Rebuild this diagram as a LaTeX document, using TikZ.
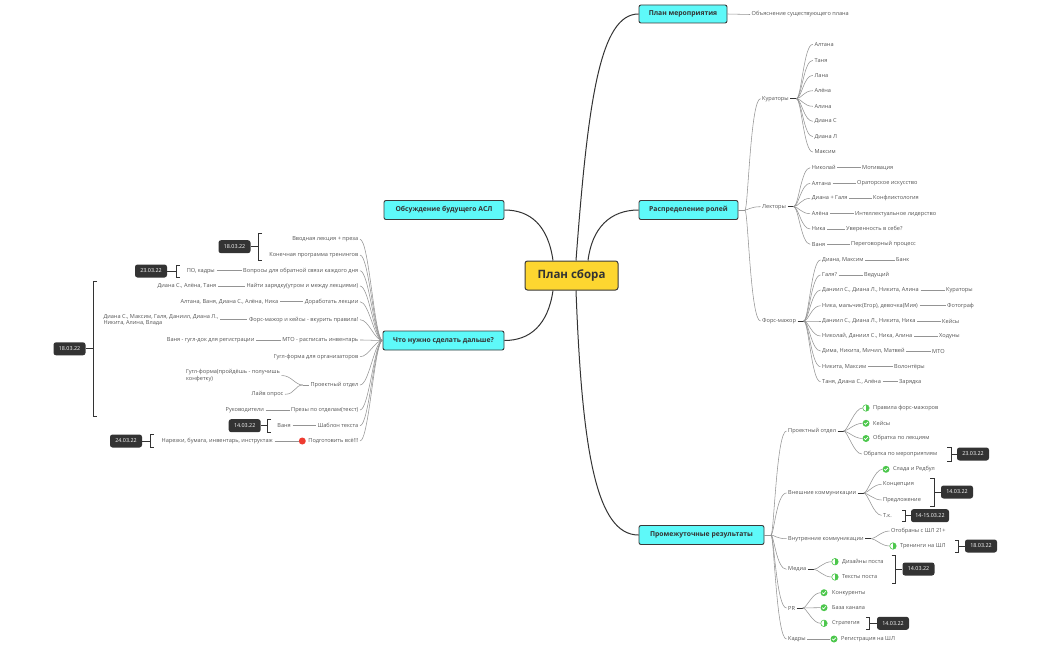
\documentclass[tikz,border=0pt]{standalone}
\usepackage{fontspec}
\setmainfont{Open Sans}
\usetikzlibrary{calc}
\definecolor{cyanbox}{HTML}{5EF9F9}
\definecolor{yelbox}{HTML}{FDD630}
\definecolor{boxline}{HTML}{3A3A3A}
\definecolor{txt}{HTML}{555555}
\definecolor{lnk}{HTML}{949494}
\definecolor{dark}{HTML}{333333}
\definecolor{okgreen}{HTML}{4CC74C}
\definecolor{reddot}{HTML}{EE3B30}
\newcommand\smallfnt{\fontsize{5.6}{6.6}\selectfont}
\newcommand\myrbr[4]{\draw[bracket] (#1,#3) -- (#2,#3) -- (#2,#4) -- (#1,#4);}
\begin{document}
\begin{tikzpicture}[x=1pt,y=-1pt,
 lbl/.style={font=\smallfnt, text=txt, inner sep=1.5pt},
 lw/.style={lbl, anchor=west},
 le/.style={lbl, anchor=east},
 mainbox/.style={draw=boxline, line width=0.9pt, fill=cyanbox, rounded corners=2pt, font=\fontsize{6.8}{8}\selectfont\bfseries, text=dark, inner sep=0pt},
 centerbox/.style={draw=boxline, line width=1pt, fill=yelbox, rounded corners=2.5pt, font=\fontsize{11.5}{13}\selectfont\bfseries, text=dark, inner sep=0pt, minimum width=93pt, minimum height=29pt},
 datebox/.style={fill=dark, rounded corners=2.5pt, text=white, font=\fontsize{5.4}{6}\selectfont, minimum width=32pt, minimum height=13pt, inner sep=0pt},
 br/.style={draw=lnk, line width=0.55pt},
 mainline/.style={draw=dark, line width=1pt},
 tickline/.style={draw=dark, line width=0.8pt},
 bracket/.style={draw=dark, line width=0.8pt},
 ok/.style={circle, fill=okgreen, minimum size=7pt, inner sep=0pt, path picture={\draw[white, line width=0.7pt] ($(path picture bounding box.center)+(-1.7pt,0.1pt)$) -- ++(1.2pt,-1.2pt) -- ++(2.3pt,2.4pt);}},
 half/.style={circle, draw=okgreen, line width=0.6pt, fill=white, minimum size=6.5pt, inner sep=0pt, path picture={\fill[okgreen] (path picture bounding box.north) rectangle (path picture bounding box.south east);}},
 rdot/.style={circle, fill=reddot, minimum size=7pt, inner sep=0pt}
]
\fill[white] (0,0) rectangle (1050,650);
\useasboundingbox (0,0) rectangle (1050,650);

% ---------- main nodes
\node[centerbox] (c) at (571.5,275.5) {План сбора};
\node[mainbox, minimum width=88pt, minimum height=18pt] (pm) at (683,14) {План мероприятия};
\node[mainbox, minimum width=99pt, minimum height=19pt] (rr) at (688.5,210) {Распределение ролей};
\node[mainbox, minimum width=125pt, minimum height=19pt] (prm) at (701.5,535) {Промежуточные результаты};
\node[mainbox, minimum width=120pt, minimum height=19pt] (ob) at (444,210) {Обсуждение будущего АСЛ};
\node[mainbox, minimum width=121pt, minimum height=19pt] (chto) at (443.5,340.5) {Что нужно сделать дальше?};

\draw[mainline] ($(c.north)+(4.5,0)$) .. controls (588,100) and (600,14) .. (pm.west);
\draw[mainline] ($(c.north)+(16.5,0)$) .. controls (592,228) and (610,210) .. (rr.west);
\draw[mainline] ($(c.south)+(4.5,0)$) .. controls (582,450) and (596,535) .. (prm.west);
\draw[mainline] ($(c.north)+(-18.5,0)$) .. controls (548,225) and (530,210) .. (ob.east);
\draw[mainline] ($(c.south)+(-18.5,0)$) .. controls (548,325) and (530,340.5) .. (chto.east);

% ---------- План мероприятия
\node[lw] (pm1) at (750,14.5) {Объяснение существующего плана};
\draw[br] (pm.east) -- (pm1.west);

% ---------- Распределение ролей
\coordinate (rrj) at (745,210);
\draw[br] (rr.east) -- (rrj);
\node[lw] (kur) at (760.5,98.7) {Кураторы};
\node[lw] (lek) at (760.5,206.7) {Лекторы};
\node[lw] (fm) at (760.5,321) {Форс-мажор};
\foreach \n in {kur,lek,fm} \draw[br] (rrj) .. controls +(3,0) and +(-10,0) .. (\n.west);

% Кураторы
\node[lw] (k1) at (812.8,44.3) {Алтана};
\node[lw] (k2) at (812.8,60.3) {Таня};
\node[lw] (k3) at (812.8,75.3) {Лана};
\node[lw] (k4) at (812.8,90.7) {Алёна};
\node[lw] (k5) at (812.8,106.3) {Алина};
\node[lw] (k6) at (812.8,121.3) {Диана С};
\node[lw] (k7) at (812.8,136.7) {Диана Л};
\node[lw] (k8) at (812.8,152) {Максим};
\draw[tickline] (kur.east) -- ++(6,0) coordinate (kurj);
\foreach \n in {k1,k2,k3,k4,k5,k6,k7,k8} \draw[br] (kurj) .. controls +(5,0) and +(-9,0) .. (\n.west);

% Лекторы
\node[lw] (e1) at (810.2,167.7) {Николай};
\node[lw] (e2) at (810.2,183.3) {Алтана};
\node[lw] (e3) at (810.2,198.3) {Диана + Галя};
\node[lw] (e4) at (810.2,213.7) {Алёна};
\node[lw] (e5) at (810.2,229) {Ника};
\node[lw] (e6) at (810.2,244.3) {Ваня};
\node[lw] (e1b) at (860.5,167.7) {Мотивация};
\node[lw] (e2b) at (855.5,183.3) {Ораторское искусство};
\node[lw] (e3b) at (871.5,198.3) {Конфликтология};
\node[lw] (e4b) at (853.5,213.7) {Интеллектуальное лидерство};
\node[lw] (e5b) at (844.5,229) {Уверенность в себе?};
\node[lw] (e6b) at (849.5,244.3) {Переговорный процесс};
\draw[tickline] (lek.east) -- ++(6,0) coordinate (lekj);
\foreach \n in {e1,e2,e3,e4,e5,e6} {
  \draw[br] (lekj) .. controls +(5,0) and +(-9,0) .. (\n.west);
  \draw[br] (\n.east) -- (\n b.west);
}

% Форс-мажор
\node[lw] (f1) at (820.5,260) {Диана, Максим};
\node[lw] (f2) at (820.5,275) {Галя?};
\node[lw] (f3) at (820.5,290) {Даниил С., Диана Л., Никита, Алина};
\node[lw] (f4) at (820.5,305.7) {Ника, мальчик(Егор), девочка(Мия)};
\node[lw] (f5) at (820.5,321) {Даниил С., Диана Л., Никита, Ника};
\node[lw] (f6) at (820.5,336) {Николай, Даниил С., Ника, Алина};
\node[lw] (f7) at (820.5,351) {Дима, Никита, Мичил, Матвей};
\node[lw] (f8) at (820.5,366.7) {Никита, Максим};
\node[lw] (f9) at (820.5,381.7) {Таня, Диана С., Алёна};
\node[lw] (f1b) at (894.5,260) {Банк};
\node[lw] (f2b) at (862.5,275) {Ведущий};
\node[lw] (f3b) at (944.5,290) {Кураторы};
\node[lw] (f4b) at (945.5,305.7) {Фотограф};
\node[lw] (f5b) at (940.5,321) {Кейсы};
\node[lw] (f6b) at (937.5,336) {Ходуны};
\node[lw] (f7b) at (930.5,351) {МТО};
\node[lw] (f8b) at (892.5,366.7) {Волонтёры};
\node[lw] (f9b) at (897.5,381.7) {Зарядка};
\draw[tickline] (fm.east) -- ++(6,0) coordinate (fmj);
\foreach \n in {f1,f2,f3,f4,f5,f6,f7,f8,f9} {
  \draw[br] (fmj) .. controls +(5,0) and +(-9,0) .. (\n.west);
  \draw[br] (\n.east) -- (\n b.west);
}

% ---------- Промежуточные результаты
\coordinate (prj) at (771,535);
\draw[br] (prm.east) -- (prj);
\node[lw] (p1) at (786.5,431) {Проектный отдел};
\node[lw] (p2) at (786.5,493) {Внешние коммуникации};
\node[lw] (p3) at (786.5,538.7) {Внутренние коммуникации};
\node[lw] (p4) at (786.5,569.3) {Медиа};
\node[lw] (p5) at (786.5,608) {PR};
\node[lw] (p6) at (786.5,639) {Кадры};
\foreach \n in {p1,p2,p3,p4,p5,p6} \draw[br] (prj) .. controls +(3,0) and +(-10,0) .. (\n.west);

% Проектный отдел
\node[half] (p1ai) at (866,408) {};
\node[lw] (p1a) at (871.5,408) {Правила форс-мажоров};
\node[ok] (p1bi) at (866,423.3) {};
\node[lw] (p1b) at (871.5,423.3) {Кейсы};
\node[ok] (p1ci) at (866,438.5) {};
\node[lw] (p1c) at (871.5,438.5) {Обратка по лекциям};
\node[lw] (p1d) at (861.8,454) {Обратка по мероприятиям};
\draw[tickline] (p1.east) -- ++(6,0) coordinate (p1j);
\foreach \n in {p1ai,p1bi,p1ci,p1d} \draw[br] (p1j) .. controls +(4,0) and +(-8,0) .. (\n.west);
\node[datebox] (d6) at (973,454) {23.03.22};
\myrbr{947}{951}{447}{461}
\draw[bracket] (951,454) -- (d6.west);

% Внешние коммуникации
\node[ok] (p2ai) at (886,469.3) {};
\node[lw] (p2a) at (891.5,469.3) {Слада и Редбул};
\node[lw] (p2b) at (881.5,484.3) {Концепция};
\node[lw] (p2c) at (881.5,500) {Предложение};
\node[lw] (p2d) at (881.5,515.3) {Т.к.};
\draw[tickline] (p2.east) -- ++(6,0) coordinate (p2j);
\foreach \n in {p2ai,p2b,p2c,p2d} \draw[br] (p2j) .. controls +(4,0) and +(-8,0) .. (\n.west);
\node[datebox] (d7) at (957,492) {14.03.22};
\myrbr{930}{934}{478}{506}
\draw[bracket] (934,492) -- (d7.west);
\node[datebox, minimum width=38pt] (d8) at (930,515.7) {14-15.03.22};
\myrbr{902}{905.5}{510}{521.5}
\draw[bracket] (905.5,515.7) -- (d8.west);

% Внутренние коммуникации
\node[lw] (p3a) at (889.5,531) {Отобраны с ШЛ 21+};
\node[half] (p3bi) at (893,546) {};
\node[lw] (p3b) at (898.5,546) {Тренинги на ШЛ};
\draw[tickline] (p3.east) -- ++(6,0) coordinate (p3j);
\foreach \n in {p3a,p3bi} \draw[br] (p3j) .. controls +(4,0) and +(-8,0) .. (\n.west);
\node[datebox] (d9) at (981,546) {18.03.22};
\myrbr{955}{958.5}{540}{552}
\draw[bracket] (958.5,546) -- (d9.west);

% Медиа
\node[half] (p4ai) at (835,561.7) {};
\node[lw] (p4a) at (840.5,561.7) {Дизайны поста};
\node[half] (p4bi) at (835,577) {};
\node[lw] (p4b) at (840.5,577) {Тексты поста};
\draw[tickline] (p4.east) -- ++(6,0) coordinate (p4j);
\foreach \n in {p4ai,p4bi} \draw[br] (p4j) .. controls +(4,0) and +(-8,0) .. (\n.west);
\node[datebox] (d10) at (918.5,569) {14.03.22};
\myrbr{891.5}{895}{555}{583}
\draw[bracket] (895,569) -- (d10.west);

% PR
\node[ok] (p5ai) at (824,592.7) {};
\node[lw] (p5a) at (830.5,592.7) {Конкуренты};
\node[ok] (p5bi) at (824,607.7) {};
\node[lw] (p5b) at (830.5,607.7) {База канала};
\node[half] (p5ci) at (824,623.3) {};
\node[lw] (p5c) at (830.5,623.3) {Стратегия};
\draw[tickline] (p5.east) -- ++(6,0) coordinate (p5j);
\foreach \n in {p5ai,p5bi,p5ci} \draw[br] (p5j) .. controls +(4,0) and +(-8,0) .. (\n.west);
\node[datebox] (d11) at (893,623.3) {14.03.22};
\myrbr{866}{869.5}{617}{629.5}
\draw[bracket] (869.5,623.3) -- (d11.west);

% Кадры
\node[ok] (p6ai) at (834,639) {};
\node[lw] (p6a) at (839.5,639) {Регистрация на ШЛ};
\draw[br] (p6.east) -- (p6ai.west);

% ---------- Что нужно сделать дальше?
\node[le] (l1) at (360,239.3) {Вводная лекция + преза};
\node[le] (l2) at (360,255) {Конечная программа тренингов};
\node[le] (l3) at (360,270.7) {Вопросы для обратной связи каждого дня};
\node[le] (l4) at (360,286) {Найти зарядку(утром и между лекциями)};
\node[le] (l5) at (360,301.7) {Доработать лекции};
\node[le] (l6) at (360,319.7) {Форс-мажор и кейсы - вкурить правила!};
\node[le] (l7) at (360,340) {МТО - расписать инвентарь};
\node[le] (l8) at (360,356.7) {Гугл-форма для организаторов};
\node[le] (l9) at (360,385) {Проектный отдел};
\node[le] (l10) at (360,410) {Презы по отделам(текст)};
\node[le] (l11) at (360,425.7) {Шаблон текста};
\node[le] (l12) at (360,441) {Подготовить всё!!!};
\foreach \n in {l1,l2,l3,l4,l5,l6,l7,l8,l9,l10,l11,l12} \draw[br] (chto.west) .. controls +(-8,0) and +(9,0) .. (\n.east);

\node[le] (l3a) at (216.5,270.7) {ПО, кадры};
\draw[br] (l3a.east) -- (l3.west);
\node[le] (l4a) at (218,286) {Диана С., Алёна, Таня};
\draw[br] (l4a.east) -- (l4.west);
\node[le] (l5a) at (280,301.7) {Алтана, Ваня, Диана С., Алёна, Ника};
\draw[br] (l5a.east) -- (l5.west);
\node[lbl, anchor=west, align=left] (l6a) at (101.8,320) {Диана С., Максим, Галя, Даниил, Диана Л.,\\Никита, Алина, Влада};
\draw[br] (l6a.east |- l6.west) -- (l6.west);
\node[le] (l7a) at (256,340) {Ваня - гугл-док для регистрации};
\draw[br] (l7a.east) -- (l7.west);
\node[lbl, anchor=west, align=left] (l9a) at (184.5,375.5) {Гугл-форма(пройдёшь - получишь\\конфетку)};
\node[le] (l9b) at (285,394.3) {Лайв опрос};
\draw[tickline, draw=lnk] (l9.west) -- ++(-6,0) coordinate (l9j);
\foreach \n in {l9a,l9b} \draw[br] (l9j) .. controls +(-8,0) and +(10,0) .. (\n.east);
\node[le] (l10a) at (265.5,410) {Руководители};
\draw[br] (l10a.east) -- (l10.west);
\node[le] (l11a) at (292.5,425.7) {Ваня};
\draw[br] (l11a.east) -- (l11.west);
\node[rdot] (l12i) at (302.3,441) {};
\node[le] (l12a) at (274.5,441) {Нарезки, бумага, инвентарь, инструктаж};
\draw[br] (l12a.east) -- (l12i.west);

% left dates
\node[datebox] (d1) at (234.5,246.7) {18.03.22};
\myrbr{262}{258.3}{233.3}{260}
\draw[bracket] (258.3,246.7) -- (d1.east);
\node[datebox] (d2) at (151,271) {23.03.22};
\myrbr{179.5}{176}{265}{277}
\draw[bracket] (176,271) -- (d2.east);
\node[datebox] (d3) at (69.5,348.8) {18.03.22};
\myrbr{97}{93.3}{281.7}{416}
\draw[bracket] (93.3,348.8) -- (d3.east);
\node[datebox] (d4) at (244.7,425.7) {14.03.22};
\myrbr{271}{267.3}{419}{432.5}
\draw[bracket] (267.3,425.7) -- (d4.east);
\node[datebox] (d5) at (126,441) {24.03.22};
\myrbr{154}{150.5}{434.3}{447.7}
\draw[bracket] (150.5,441) -- (d5.east);
\end{tikzpicture}
\end{document}
